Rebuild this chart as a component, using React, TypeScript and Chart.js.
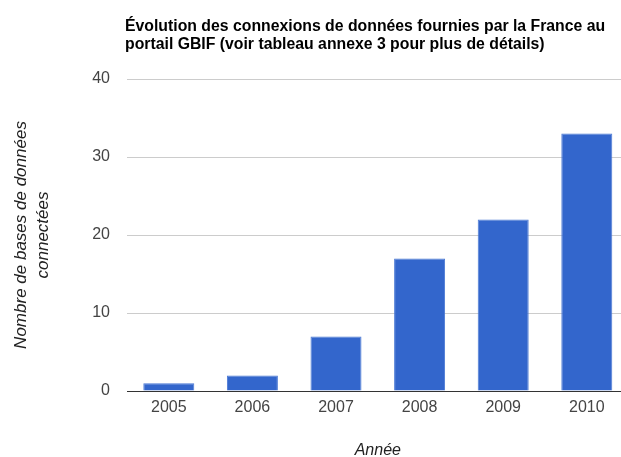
import React, { useEffect, useRef } from "react";
import { Chart, registerables } from "chart.js";

Chart.register(...registerables);

const categories: string[] = ["2005", "2006", "2007", "2008", "2009", "2010"];
const connectedDatabases: number[] = [1, 2, 7, 17, 22, 33];
const titleLines: string[] = [
  "Évolution des connexions de données fournies par la France au",
  "portail GBIF (voir tableau annexe 3 pour plus de détails)",
];
const yTitleLines: string[] = ["Nombre de bases de données", "connectées"];
const xTitle = "Année";
const yMin = 0;
const yMax = 40;
const yStep = 10;

const FONT = '"Liberation Sans", Arial, sans-serif';

const textPlugin = {
  id: "customTexts",
  afterDraw(chart: any) {
    const { ctx, chartArea } = chart;
    ctx.save();
    // Title
    ctx.fillStyle = "#000000";
    ctx.font = `bold 15.8px ${FONT}`;
    ctx.textAlign = "left";
    ctx.textBaseline = "alphabetic";
    titleLines.forEach((line, i) => {
      ctx.fillText(line, 125, 31 + i * 17.5);
    });
    // Y title
    ctx.fillStyle = "#222222";
    ctx.font = `italic 17px ${FONT}`;
    ctx.textAlign = "center";
    ctx.textBaseline = "middle";
    const cy = (chartArea.top + chartArea.bottom) / 2;
    yTitleLines.forEach((line, i) => {
      ctx.save();
      ctx.translate(21 + i * 22, cy);
      ctx.rotate(-Math.PI / 2);
      ctx.fillText(line, 0, 0);
      ctx.restore();
    });
    // X title
    ctx.font = `italic 16px ${FONT}`;
    ctx.textAlign = "center";
    ctx.textBaseline = "middle";
    ctx.fillText(xTitle, (chartArea.left + chartArea.right) / 2, 451);
    ctx.restore();
  },
};

export default function App() {
  const canvasRef = useRef<HTMLCanvasElement | null>(null);

  useEffect(() => {
    if (!canvasRef.current) return;
    const chart = new Chart(canvasRef.current, {
      type: "bar",
      data: {
        labels: categories,
        datasets: [
          {
            data: connectedDatabases,
            backgroundColor: "#3366cc",
            borderColor: "#4a78d4",
            borderWidth: 1,
            categoryPercentage: 1,
            barPercentage: 0.61,
          },
        ],
      },
      plugins: [textPlugin],
      options: {
        animation: false,
        responsive: false,
        devicePixelRatio: 1,
        layout: { padding: { left: 0, right: 3.4, top: 79, bottom: 0 } },
        plugins: {
          legend: { display: false },
          title: { display: false },
          tooltip: { enabled: false },
        },
        scales: {
          x: {
            afterFit: (s: any) => {
              s.height = 66;
            },
            grid: { display: false, drawTicks: false },
            border: { display: true, color: "#333333", width: 1 },
            ticks: {
              color: "#444444",
              font: { family: FONT, size: 16 },
              padding: 7,
              maxRotation: 0,
            },
          },
          y: {
            min: yMin,
            max: yMax,
            afterFit: (s: any) => {
              s.width = 127;
            },
            grid: {
              drawTicks: false,
              color: (c: any) => (c.tick && c.tick.value === 0 ? "rgba(0,0,0,0)" : "#cccccc"),
            },
            border: { display: false },
            ticks: {
              stepSize: yStep,
              color: "#444444",
              font: { family: FONT, size: 16 },
              padding: 17,
            },
          },
        },
      },
    });
    return () => chart.destroy();
  }, []);

  return (
    <div
      style={{
        position: "fixed",
        left: 0,
        top: 0,
        width: 621,
        height: 457,
        overflow: "hidden",
        background: "#ffffff",
      }}
    >
      <canvas
        ref={canvasRef}
        width={632}
        height={457}
        style={{ display: "block", width: 632, height: 457 }}
      />
    </div>
  );
}
